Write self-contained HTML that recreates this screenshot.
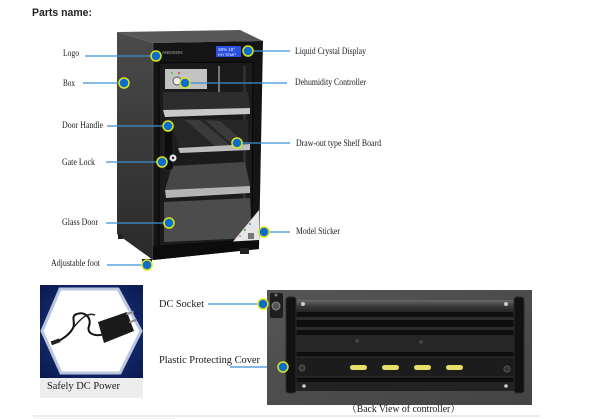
<!DOCTYPE html>
<html><head><meta charset="utf-8"><style>
html,body{margin:0;padding:0;background:#fff;}
svg{display:block;}
.l{font-family:"Liberation Serif",serif;font-size:9px;fill:#1a1a1a;}
.b{font-family:"Liberation Serif","Noto Serif CJK SC",serif;font-size:10.5px;fill:#1a1a1a;}
</style></head><body>
<svg width="600" height="419" viewBox="0 0 600 419" xmlns="http://www.w3.org/2000/svg">
<defs>
<linearGradient id="side" x1="0" y1="0" x2="0" y2="1"><stop offset="0" stop-color="#4a4a4a"/><stop offset="1" stop-color="#2a2a2a"/></linearGradient>
<linearGradient id="metal" x1="0" y1="0" x2="0" y2="1"><stop offset="0" stop-color="#6a6a6a"/><stop offset="0.5" stop-color="#3a3a3a"/><stop offset="1" stop-color="#252525"/></linearGradient>
<radialGradient id="navy" cx="0.5" cy="0.5" r="0.7"><stop offset="0" stop-color="#1d3b8c"/><stop offset="1" stop-color="#0a1a50"/></radialGradient>
<linearGradient id="photo" x1="0" y1="0" x2="1" y2="1"><stop offset="0" stop-color="#555"/><stop offset="1" stop-color="#444"/></linearGradient>
</defs>
<rect width="600" height="419" fill="#fff"/>

<text x="32" y="16" font-family="Liberation Sans, sans-serif" font-weight="bold" font-size="11" fill="#222" textLength="60" lengthAdjust="spacingAndGlyphs">Parts name:</text>

<!-- cabinet -->
<polygon points="117,32 240,30 263,41 153,43" fill="#585858"/>
<polygon points="117,32 153,43 153,260 117,234" fill="url(#side)"/>
<polygon points="153,43 263,41 259,249 153,260" fill="#141414"/>
<line x1="153" y1="43" x2="153" y2="260" stroke="#555" stroke-width="0.8"/>
<rect x="216" y="46" width="25" height="11" fill="#2b50e0"/>
<text x="218" y="51" font-family="Liberation Sans, sans-serif" font-size="4.5" fill="#e8eeff">28% 18°</text>
<text x="218" y="56" font-family="Liberation Sans, sans-serif" font-size="4" fill="#e8eeff">RH  TEMP</text>
<text x="162" y="54" font-family="Liberation Sans, sans-serif" font-size="4.5" fill="#aaa">ANDISON</text>

<polygon points="159,63 253,62 252,240 159,246" fill="#1b1b1b" stroke="#050505"/>
<rect x="165" y="69" width="42" height="20" fill="#c2c2c2"/>
<circle cx="172" cy="73" r="1" fill="#4c4"/><circle cx="179" cy="73" r="1" fill="#d44"/>
<circle cx="177" cy="81" r="4" fill="#eee" stroke="#555"/>
<rect x="218" y="66" width="2" height="26" fill="#777"/>
<rect x="243" y="66" width="3" height="172" fill="#2e2e2e"/>
<polygon points="163,92 248,92 250,108 163,110" fill="#2d2d2d"/>
<polygon points="163,110 250,108 250,114 165,117" fill="#c9c9c9"/>
<polygon points="170,118 248,120 248,144 178,147" fill="#262626"/>
<polygon points="185,120 200,120 230,145 215,146" fill="#3a3a3a"/>
<polygon points="205,120 220,121 245,143 232,144" fill="#3a3a3a"/>
<polygon points="178,148 250,144 250,150 180,153" fill="#bdbdbd"/>
<polygon points="172,166 245,162 250,186 165,190" fill="#474747"/>
<polygon points="165,190 250,186 250,193 166,198" fill="#b5b5b5"/>
<polygon points="164,202 250,198 252,238 164,242" fill="#4c4c4c"/>
<rect x="164" y="120" width="9" height="50" rx="3" fill="#0d0d0d" stroke="#333" stroke-width="0.6"/>
<circle cx="173" cy="158" r="3.5" fill="#e8e8e8"/><circle cx="173" cy="158" r="1.2" fill="#222"/>
<polygon points="231,244 259,210 259,244" fill="#e6e6e6"/>
<circle cx="240" cy="236" r="1" fill="#e84"/><circle cx="245" cy="230" r="1" fill="#4a4"/><circle cx="250" cy="224" r="1" fill="#48d"/>
<rect x="248" y="233" width="6" height="6" fill="#777"/>
<polygon points="153,246 259,240 259,249 153,260" fill="#0c0c0c"/>
<rect x="142" y="259" width="10" height="5" fill="#222"/>
<rect x="240" y="248" width="9" height="6" fill="#222"/>
<rect x="118" y="234" width="5" height="5" fill="#222"/>

<!-- leader lines -->
<g stroke="#3d8fd6" stroke-width="1.2">
<line x1="85" y1="56" x2="151" y2="56"/>
<line x1="83" y1="83" x2="119" y2="83"/>
<line x1="107" y1="126" x2="163" y2="126"/>
<line x1="106" y1="162" x2="157" y2="162"/>
<line x1="106" y1="223" x2="164" y2="223"/>
<line x1="107" y1="265" x2="142" y2="265"/>
<line x1="253" y1="51" x2="290" y2="51"/>
<line x1="190" y1="83" x2="287" y2="83"/>
<line x1="242" y1="143" x2="290" y2="143"/>
<line x1="269" y1="232" x2="290" y2="232"/>
<line x1="208" y1="304" x2="257" y2="304"/>
<line x1="230" y1="367" x2="278" y2="367"/>
</g>
<g fill="#0a6ecf" stroke="#dfe31a" stroke-width="1.5">
<circle cx="156" cy="56" r="5"/>
<circle cx="124" cy="83" r="5"/>
<circle cx="168" cy="126" r="5"/>
<circle cx="162" cy="162" r="5"/>
<circle cx="169" cy="223" r="5"/>
<circle cx="147" cy="265" r="5"/>
<circle cx="248" cy="51" r="5"/>
<circle cx="185" cy="83" r="5"/>
<circle cx="237" cy="143" r="5"/>
<circle cx="264" cy="232" r="5"/>
</g>

<!-- labels -->
<text class="l" x="63" y="56" textLength="16" lengthAdjust="spacingAndGlyphs">Logo</text>
<text class="l" x="63" y="86" textLength="12" lengthAdjust="spacingAndGlyphs">Box</text>
<text class="l" x="62" y="128" textLength="41" lengthAdjust="spacingAndGlyphs">Door Handle</text>
<text class="l" x="62" y="165" textLength="33" lengthAdjust="spacingAndGlyphs">Gate Lock</text>
<text class="l" x="62" y="225" textLength="36" lengthAdjust="spacingAndGlyphs">Glass Door</text>
<text class="l" x="51" y="266" textLength="49" lengthAdjust="spacingAndGlyphs">Adjustable foot</text>
<text class="l" x="295" y="54" textLength="71" lengthAdjust="spacingAndGlyphs">Liquid Crystal Display</text>
<text class="l" x="295" y="85" textLength="71" lengthAdjust="spacingAndGlyphs">Dehumidity Controller</text>
<text class="l" x="296" y="146" textLength="85" lengthAdjust="spacingAndGlyphs">Draw-out type Shelf Board</text>
<text class="l" x="296" y="234" textLength="44" lengthAdjust="spacingAndGlyphs">Model Sticker</text>

<!-- DC power image -->
<rect x="40" y="285" width="103" height="113" fill="#ededed"/>
<rect x="40" y="285" width="103" height="93" fill="url(#navy)"/>
<polygon points="42,331 60,289 118,289 141,331 120,373 61,373" fill="#fff" stroke="#b9c6de" stroke-width="3"/>
<path d="M57,342 C64,338 70,334 73,328 C76,322 70,316 77,314 C85,311 92,318 89,326 C86,334 96,337 104,334" stroke="#111" stroke-width="2" fill="none"/>
<path d="M73,328 C80,320 86,312 95,315" stroke="#222" stroke-width="1.5" fill="none"/>
<rect x="51" y="340" width="9" height="4" fill="#222" transform="rotate(-20 55 342)"/>
<polygon points="98,322 127,312 134,331 104,343" fill="#1a1a1a"/>
<rect x="126" y="312" width="8" height="2" fill="#888" transform="rotate(-20 130 313)"/>
<rect x="129" y="320" width="8" height="2" fill="#888" transform="rotate(-20 133 321)"/>
<text class="b" x="47" y="389" textLength="73" lengthAdjust="spacingAndGlyphs">Safely DC Power</text>

<text class="b" x="159" y="307" textLength="45" lengthAdjust="spacingAndGlyphs">DC Socket</text>
<text class="b" x="159" y="363" textLength="101" lengthAdjust="spacingAndGlyphs">Plastic Protecting Cover</text>

<!-- back view photo -->
<rect x="267" y="290" width="265" height="115" fill="url(#photo)"/>
<rect x="270" y="293" width="13" height="25" rx="2" fill="#1e1e1e"/>
<circle cx="276" cy="306" r="4" fill="#555" stroke="#999" stroke-width="0.8"/>
<circle cx="276" cy="295" r="1.5" fill="#777"/>
<rect x="295" y="300" width="220" height="91" fill="#0e0e0e"/>
<rect x="295" y="300" width="220" height="12" fill="url(#metal)"/>
<circle cx="303" cy="304" r="2" fill="#ccc"/><circle cx="506" cy="304" r="2" fill="#ccc"/>
<rect x="295" y="317" width="220" height="3" fill="#2c2c2c"/>
<rect x="295" y="327" width="220" height="3" fill="#2c2c2c"/>
<rect x="295" y="335" width="220" height="17" fill="#262626"/>
<circle cx="357" cy="341" r="2" fill="#444"/><circle cx="421" cy="342" r="2" fill="#444"/>
<rect x="295" y="357" width="220" height="20" fill="#1c1c1c" stroke="#3a3a3a" stroke-width="0.8"/>
<g fill="#e6de6a">
<rect x="350" y="365" width="17" height="5" rx="2.5"/>
<rect x="382" y="365" width="17" height="5" rx="2.5"/>
<rect x="414" y="365" width="17" height="5" rx="2.5"/>
<rect x="446" y="365" width="17" height="5" rx="2.5"/>
</g>
<circle cx="302" cy="368" r="3" fill="#333" stroke="#555"/><circle cx="507" cy="369" r="3" fill="#333" stroke="#555"/>
<rect x="295" y="382" width="220" height="9" fill="#222"/>
<circle cx="304" cy="386" r="1.8" fill="#ccc"/><circle cx="506" cy="386" r="1.8" fill="#ccc"/>
<rect x="286" y="297" width="10" height="96" rx="3" fill="#111" stroke="#2a2a2a"/>
<rect x="514" y="297" width="10" height="96" rx="3" fill="#111" stroke="#2a2a2a"/>
<circle cx="263" cy="304" r="5" fill="#0a6ecf" stroke="#dfe31a" stroke-width="1.5"/>
<circle cx="283" cy="367" r="5" fill="#0a6ecf" stroke="#dfe31a" stroke-width="1.5"/>
<text class="b" x="347" y="412" textLength="113" lengthAdjust="spacingAndGlyphs">（Back View of controller）</text>

<rect x="33" y="415" width="507" height="2" fill="#ebebeb"/>
<rect x="33" y="418" width="142" height="1" fill="#f0f0f0"/>
</svg>
</body></html>
